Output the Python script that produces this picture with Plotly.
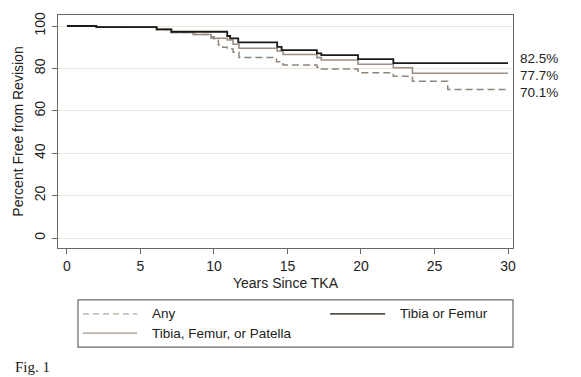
import plotly.graph_objects as go

# Kaplan-Meier style survival estimates
t_any = [0, 2, 6.1, 7.1, 8.6, 9.8, 10.0, 10.3, 10.6, 10.9, 11.3, 11.7, 14.25, 14.7, 17.0, 17.3, 19.8, 22.2, 23.5, 25.9, 30]
s_any = [100, 99.5, 98.4, 97.0, 96.0, 95.0, 94.0, 91.0, 90.0, 89.2, 87.6, 85.1, 83.2, 81.6, 80.5, 79.7, 78.0, 76.3, 74.0, 70.1, 70.1]

t_tf = [0, 2, 6.1, 7.1, 10.9, 11.1, 11.65, 14.3, 14.6, 17.0, 17.3, 19.8, 22.2, 30]
s_tf = [100, 99.5, 98.4, 97.3, 95.3, 94.2, 92.3, 90.2, 88.6, 87.1, 86.3, 84.4, 82.5, 82.5]

t_tfp = [0, 2, 6.1, 7.1, 8.6, 9.8, 10.9, 11.3, 11.7, 14.3, 14.7, 17.0, 17.3, 19.8, 22.2, 23.5, 30]
s_tfp = [100, 99.5, 98.4, 97.0, 96.0, 94.2, 93.4, 91.4, 89.5, 88.2, 86.6, 85.1, 84.0, 82.0, 80.3, 77.7, 77.7]

names = ["Any", "Tibia or Femur", "Tibia, Femur, or Patella"]
end_labels = ["82.5%", "77.7%", "70.1%"]
end_values = [82.5, 77.7, 70.1]
x_ticks = [0, 5, 10, 15, 20, 25, 30]
y_ticks = [0, 20, 40, 60, 80, 100]

FONT = "Liberation Sans, Arial, sans-serif"

fig = go.Figure()
fig.add_trace(go.Scatter(x=t_any, y=s_any, mode="lines", line_shape="hv", name=names[0],
                         line=dict(color="#8f857b", width=1.5, dash="7px,4px")))
fig.add_trace(go.Scatter(x=t_tfp, y=s_tfp, mode="lines", line_shape="hv", name=names[2],
                         line=dict(color="#9c8e82", width=1.6)))
fig.add_trace(go.Scatter(x=t_tf, y=s_tf, mode="lines", line_shape="hv", name=names[1],
                         line=dict(color="#1c1a18", width=1.8)))

label_shift = [5, -2, -3]
for lab, v, sh in zip(end_labels, end_values, label_shift):
    fig.add_annotation(x=1, xref="paper", y=v, yref="y", text=lab, showarrow=False,
                       xanchor="left", xshift=6, yshift=sh, borderpad=0,
                       font=dict(size=13.5, color="#222", family=FONT))

# Legend box (manual)
lx0, lx1, ly0, ly1 = 0.044, 1.0, -0.223, -0.425
fig.add_shape(type="rect", xref="paper", yref="paper", x0=lx0, x1=lx1, y0=ly0, y1=ly1,
              line=dict(color="#6e6862", width=1.2), fillcolor="rgba(0,0,0,0)")
legend_items = [
    (names[0], 0.055, 0.174, -0.283, "#b3a595", "6px,4px", 1.3),
    (names[1], 0.598, 0.719, -0.283, "#5a504a", "solid", 1.8),
    (names[2], 0.055, 0.174, -0.365, "#a89486", "solid", 1.3),
]
for name, x0, x1, yy, col, dash, w in legend_items:
    fig.add_shape(type="line", xref="paper", yref="paper", x0=x0, x1=x1, y0=yy, y1=yy,
                  line=dict(color=col, width=w, dash=dash))
    fig.add_annotation(x=x1 + 0.028, xref="paper", y=yy, yref="paper", text=name, showarrow=False,
                       xanchor="left", yanchor="middle", font=dict(size=13.5, color="#222", family=FONT))

fig.add_annotation(x=-0.1, xref="paper", y=-0.51, yref="paper", text="Fig. 1", showarrow=False,
                   xanchor="left", yanchor="middle",
                   font=dict(size=15, color="#222", family="Liberation Serif, Times New Roman, serif"))

fig.update_layout(
    width=581, height=377,
    margin=dict(l=58, r=68, t=15, b=129),
    paper_bgcolor="white", plot_bgcolor="white",
    showlegend=False,
    font=dict(family=FONT, size=14, color="#222"),
)
fig.update_xaxes(range=[-0.61, 30.34], tickvals=x_ticks, ticks="outside", ticklen=5,
                 tickcolor="#6e6862", showgrid=False, zeroline=False,
                 showline=True, linecolor="#6e6862", linewidth=1.2, mirror=True,
                 title=dict(text="Years Since TKA", font=dict(size=14), standoff=5),
                 tickfont=dict(size=14))
fig.update_yaxes(range=[-4.7, 105.2], tickvals=y_ticks, ticks="outside", ticklen=5,
                 tickcolor="#6e6862", tickangle=-90, showgrid=True, gridcolor="#ebe6d8",
                 gridwidth=1, zeroline=False, ticklabelstandoff=1,
                 showline=True, linecolor="#6e6862", linewidth=1.2, mirror=True,
                 title=dict(text="Percent Free from Revision", font=dict(size=14), standoff=5),
                 tickfont=dict(size=14))

fig.write_html("out.html", post_script="document.body.style.margin='0';",
               config={"displayModeBar": False})
